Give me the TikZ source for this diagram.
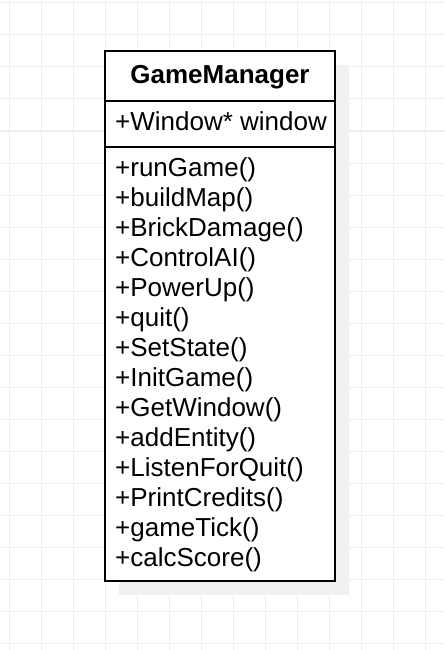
\documentclass[tikz,border=0pt]{standalone}
\usepackage{fontspec}
\setmainfont{Liberation Sans}
\definecolor{gridgray}{HTML}{EEEEEE}
\definecolor{shadowgray}{HTML}{F1F1F1}
\begin{document}
\begin{tikzpicture}[x=1pt,y=-1pt]
    % Define styles for shapes
    \tikzset{
      gridline/.style={draw=gridgray, line width=1pt},
      classbox/.style={draw, line width=2pt, fill=white},
      member/.style={anchor=base west, inner sep=0pt, font=\fontsize{26}{30}\selectfont},
      classname/.style={anchor=base, inner sep=0pt, font=\fontsize{26}{30}\selectfont\bfseries}
    }

    % Background and grid
    \fill[white] (0,0) rectangle (445,650);
    \useasboundingbox (0,0) rectangle (445,650);
    \foreach \gx in {9,41,...,441} \draw[gridline] (\gx,0) -- (\gx,650);
    \foreach \gy in {3,35,...,643} \draw[gridline] (0,\gy) -- (445,\gy);

    % Draw the shadow and the class box
    \fill[shadowgray] (119,65) rectangle (349,595);
    \draw[classbox] (105,51) rectangle (335,581);
    \draw[line width=2pt] (105,101) -- (335,101);
    \draw[line width=2pt] (105,147) -- (335,147);

    % Class name and attribute
    \node[classname] (gamemanager) at (220,84) {GameManager};
    \node[member] (window) at (115,130) {+Window* window};

    % Methods
    \node[member] (rungame) at (115,176) {+runGame()};
    \node[member] (buildmap) at (115,206) {+buildMap()};
    \node[member] (brickdamage) at (115,236) {+BrickDamage()};
    \node[member] (controlai) at (115,266) {+ControlAI()};
    \node[member] (powerup) at (115,296) {+PowerUp()};
    \node[member] (quit) at (115,326) {+quit()};
    \node[member] (setstate) at (115,356) {+SetState()};
    \node[member] (initgame) at (115,386) {+InitGame()};
    \node[member] (getwindow) at (115,416) {+GetWindow()};
    \node[member] (addentity) at (115,446) {+addEntity()};
    \node[member] (listenforquit) at (115,476) {+ListenForQuit()};
    \node[member] (printcredits) at (115,506) {+PrintCredits()};
    \node[member] (gametick) at (115,536) {+gameTick()};
    \node[member] (calcscore) at (115,566) {+calcScore()};

\end{tikzpicture}
\end{document}
